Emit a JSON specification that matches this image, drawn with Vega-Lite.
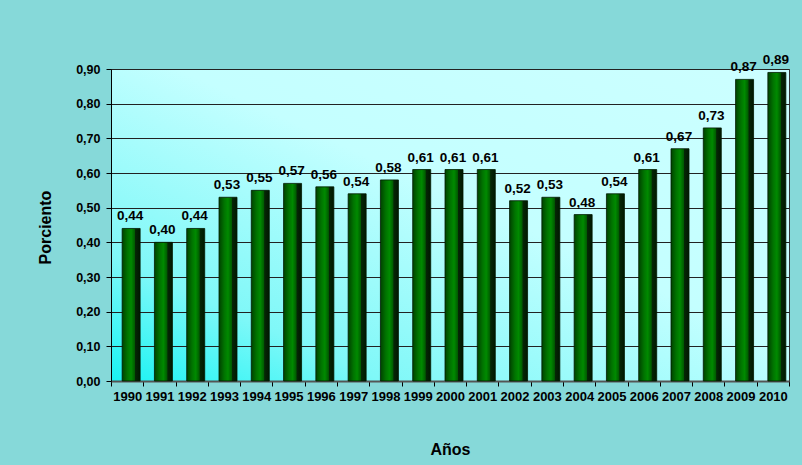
{
  "$schema": "https://vega.github.io/schema/vega-lite/v6.json",
  "width": 678,
  "height": 312,
  "autosize": {"type": "none"},
  "padding": {"left": 111, "top": 69, "right": 13, "bottom": 84},
  "background": "#86d9d9",
  "config": {
    "locale": {"number": {"decimal": ",", "thousands": ".", "grouping": [3], "currency": ["", ""]}},
    "font": "Liberation Sans",
    "view": {
      "stroke": "#333333",
      "strokeWidth": 1,
      "fill": {
        "gradient": "linear",
        "x1": 1, "y1": 0, "x2": 0, "y2": 1,
        "stops": [
          {"offset": 0, "color": "#ccffff"},
          {"offset": 0.45, "color": "#c4ffff"},
          {"offset": 0.8, "color": "#7ff8f8"},
          {"offset": 1, "color": "#19f3f3"}
        ]
      }
    }
  },
  "data": {
    "values": [
      {"year": "1990", "value": 0.44},
      {"year": "1991", "value": 0.40},
      {"year": "1992", "value": 0.44},
      {"year": "1993", "value": 0.53},
      {"year": "1994", "value": 0.55},
      {"year": "1995", "value": 0.57},
      {"year": "1996", "value": 0.56},
      {"year": "1997", "value": 0.54},
      {"year": "1998", "value": 0.58},
      {"year": "1999", "value": 0.61},
      {"year": "2000", "value": 0.61},
      {"year": "2001", "value": 0.61},
      {"year": "2002", "value": 0.52},
      {"year": "2003", "value": 0.53},
      {"year": "2004", "value": 0.48},
      {"year": "2005", "value": 0.54},
      {"year": "2006", "value": 0.61},
      {"year": "2007", "value": 0.67},
      {"year": "2008", "value": 0.73},
      {"year": "2009", "value": 0.87},
      {"year": "2010", "value": 0.89}
    ]
  },
  "encoding": {
    "x": {
      "field": "year",
      "type": "ordinal",
      "scale": {"paddingInner": 0, "paddingOuter": 0},
      "axis": {
        "title": "Años",
        "titleFontSize": 16,
        "titleFontWeight": "bold",
        "titleColor": "#000000",
        "titleX": 339,
        "titleY": 68,
        "titleBaseline": "middle",
        "titleAnchor": null,
        "titleAlign": "center",
        "labelAngle": 0,
        "labelFontSize": 13,
        "labelFontWeight": "bold",
        "labelColor": "#000000",
        "labelPadding": 4,
        "tickBand": "extent",
        "tickSize": 5,
        "tickColor": "#000000",
        "domainColor": "#555555",
        "domainWidth": 2
      }
    },
    "y": {
      "field": "value",
      "type": "quantitative",
      "scale": {"domain": [0, 0.9], "nice": false},
      "axis": {
        "title": "Porciento",
        "titleFontSize": 16,
        "titleFontWeight": "bold",
        "titleColor": "#000000",
        "titleAngle": -90,
        "titleX": -66,
        "titleY": 158,
        "titleAlign": "center",
        "titleBaseline": "middle",
        "titleAnchor": null,
        "values": [0, 0.1, 0.2, 0.3, 0.4, 0.5, 0.6, 0.7, 0.8, 0.9],
        "format": ".2f",
        "labelFontSize": 12.5,
        "labelFontWeight": "bold",
        "labelColor": "#000000",
        "labelPadding": 6,
        "tickSize": 5,
        "tickColor": "#000000",
        "domainColor": "#000000",
        "gridColor": "#222222",
        "gridOpacity": 1,
        "gridWidth": 1
      }
    }
  },
  "layer": [
    {
      "mark": {
        "type": "bar",
        "width": 18,
        "xOffset": 4,
        "stroke": "#001a00",
        "strokeWidth": 0.8,
        "fill": {
          "gradient": "linear",
          "x1": 0, "y1": 0, "x2": 1, "y2": 0,
          "stops": [
            {"offset": 0, "color": "#004200"},
            {"offset": 0.3, "color": "#007400"},
            {"offset": 0.5, "color": "#008a00"},
            {"offset": 0.7, "color": "#005c00"},
            {"offset": 0.74, "color": "#062606"},
            {"offset": 1, "color": "#001800"}
          ]
        }
      }
    },
    {
      "mark": {
        "type": "text",
        "baseline": "alphabetic",
        "dy": -8,
        "xOffset": 3,
        "fontSize": 13.5,
        "fontWeight": "bold",
        "color": "#000000"
      },
      "encoding": {
        "text": {"field": "value", "type": "quantitative", "format": ".2f"}
      }
    }
  ]
}
